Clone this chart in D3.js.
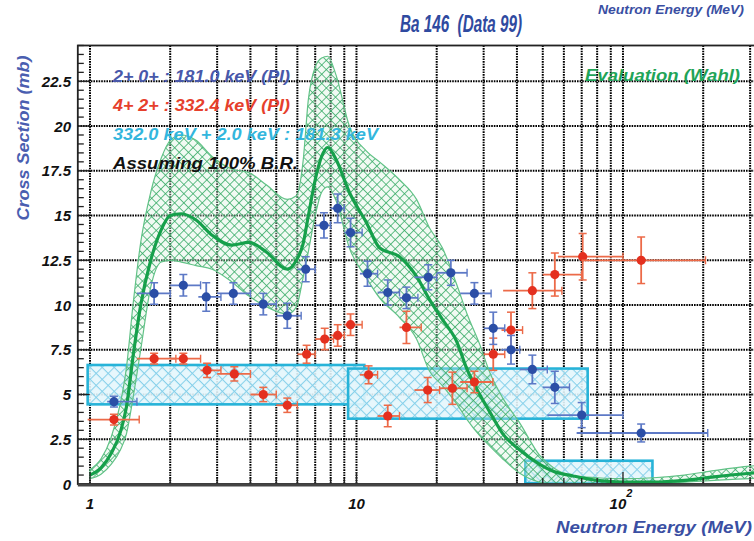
<!DOCTYPE html>
<html>
<head>
<meta charset="utf-8">
<script src="https://cdn.jsdelivr.net/npm/d3@7"></script>
<style>
  body { margin: 0; background: #fff; }
  svg { display: block; }
  text { font-family: "Liberation Sans", Arial, sans-serif; font-weight: bold; font-style: italic; }
</style>
</head>
<body>
<svg id="chart" width="754" height="541"></svg>
<script>
// ---- Evaluation (Wahl): central curve and uncertainty band ----
const evalE   = [1.0, 1.1, 1.2, 1.3, 1.37, 1.45, 1.55, 1.69, 1.85, 2.0, 2.2, 2.5, 2.87, 3.4, 3.95, 4.6, 5.5, 5.95, 6.3, 6.6, 7.0, 7.4, 7.8, 8.4, 9.4, 10.9, 12.2, 14.5, 16.8, 18.8, 21, 23.7, 26, 29, 31.7, 35.4, 41, 48.7, 55, 65, 80, 100, 130, 170, 220, 300, 330];
const evalMid = [0.5, 0.9, 1.7, 2.9, 4.3, 7.1, 10.0, 12.5, 14.2, 15.0, 15.1, 14.75, 13.9, 13.35, 13.5, 12.95, 12.0, 12.5, 13.4, 15.0, 17.0, 18.3, 18.8, 18.1, 16.3, 14.6, 13.2, 12.7, 11.6, 10.3, 9.2, 8.0, 6.4, 5.0, 4.0, 2.8, 1.9, 1.1, 0.7, 0.45, 0.2, 0.1, 0.1, 0.2, 0.4, 0.6, 0.65];
const evalHi  = [0.8, 1.4, 2.6, 4.5, 6.5, 10.0, 13.5, 16.3, 18.2, 19.2, 19.5, 19.2, 18.3, 17.6, 17.4, 16.7, 15.9, 16.1, 18.0, 21.5, 23.3, 23.8, 23.9, 22.8, 20.0, 18.6, 18.0, 17.0, 15.9, 14.3, 13.2, 11.2, 9.5, 7.8, 6.2, 4.8, 3.4, 1.6, 0.9, 0.45, 0.35, 0.3, 0.35, 0.5, 0.75, 1.0, 1.05];
const evalLo  = [0.3, 0.55, 1.1, 1.9, 2.8, 4.8, 7.5, 11.0, 12.4, 12.5, 12.4, 12.2, 12.0, 11.3, 10.5, 9.9, 9.5, 9.9, 11.5, 13.0, 15.0, 16.3, 16.6, 15.8, 13.2, 11.5, 10.4, 9.3, 8.1, 6.3, 5.5, 4.5, 3.6, 2.7, 2.1, 1.4, 0.6, 0.1, 0, 0, 0, 0, 0.02, 0.1, 0.2, 0.3, 0.32];

// ---- 2+ -> 0+ : 181.0 keV (PI)  rows: [E, sigma, E low, E high, sigma error] ----
const gamma181 = [
  [1.23, 4.6, 1.16, 1.5, 0.3],
  [1.74, 10.65, 1.5, 2.0, 0.6],
  [2.24, 11.1, 2.0, 2.6, 0.6],
  [2.73, 10.45, 2.55, 3.1, 0.8],
  [3.45, 10.65, 3.0, 4.0, 0.6],
  [4.47, 10.05, 4.0, 5.0, 0.6],
  [5.5, 9.4, 5.0, 6.2, 0.7],
  [6.45, 12.0, 6.0, 7.0, 0.7],
  [7.55, 14.45, 7.0, 8.0, 0.7],
  [8.5, 15.4, 8.0, 9.0, 0.8],
  [9.5, 14.05, 9.0, 10.5, 0.8],
  [11.0, 11.75, 10.3, 12.0, 0.7],
  [13.1, 10.7, 12.0, 14.5, 0.7],
  [15.4, 10.4, 14.5, 17.0, 0.6],
  [18.6, 11.55, 16.5, 20.0, 0.7],
  [22.6, 11.8, 20.0, 26.0, 0.7],
  [27.7, 10.65, 24.5, 32.0, 0.6],
  [32.6, 8.7, 30.0, 36.0, 0.9],
  [38.0, 7.5, 35.0, 41.0, 0.8],
  [45.7, 6.4, 41.0, 52.0, 0.8],
  [55.5, 5.4, 50.0, 63.0, 0.9],
  [70.0, 3.85, 52.0, 100.0, 0.7],
  [117, 2.85, 67.0, 208.0, 0.5]
];

// ---- 4+ -> 2+ : 332.4 keV (PI) ----
const gamma332 = [
  [1.23, 3.6, 0.98, 1.53, 0.3],
  [1.74, 7.0, 1.5, 2.1, 0.3],
  [2.24, 7.0, 2.0, 2.6, 0.3],
  [2.75, 6.35, 2.6, 3.1, 0.4],
  [3.48, 6.15, 3.0, 4.0, 0.4],
  [4.47, 5.0, 4.0, 5.0, 0.4],
  [5.5, 4.4, 5.0, 6.0, 0.4],
  [6.5, 7.25, 6.0, 7.0, 0.5],
  [7.6, 8.1, 7.0, 8.2, 0.6],
  [8.5, 8.3, 8.0, 9.0, 0.6],
  [9.5, 8.9, 9.0, 10.5, 0.6],
  [11.1, 6.1, 10.3, 12.0, 0.5],
  [13.1, 3.8, 12.0, 14.5, 0.6],
  [15.4, 8.75, 14.5, 17.5, 0.9],
  [18.5, 5.25, 16.5, 20.5, 0.7],
  [22.9, 5.35, 20.5, 26.0, 0.9],
  [27.7, 5.7, 24.5, 32.5, 0.6],
  [32.6, 7.25, 30.0, 36.0, 0.9],
  [38.0, 8.6, 35.0, 42.0, 1.0],
  [45.7, 10.8, 35.5, 59.0, 1.0],
  [55.5, 11.7, 50.0, 70.0, 1.2],
  [70.6, 12.7, 57.0, 100.0, 1.3],
  [117, 12.5, 70.0, 204.0, 1.3]
];

// ---- 332.0 keV + 2.0 keV : 181.3 keV  (energy range, cross-section range) ----
const sumELo  = [0.98, 9.3, 43];
const sumEHi  = [10.7, 73.7, 129];
const sumXsLo = [4.45, 3.65, 0.05];
const sumXsHi = [6.65, 6.45, 1.3];

// ---- axis ticks ----
const yTicks = [0, 2.5, 5, 7.5, 10, 12.5, 15, 17.5, 20, 22.5];
const xDecades = [1, 10, 100];

// ------------------------------------------------------------
const svg = d3.select("#chart");
const pLeft = 77.8, pRight = 757.6, pTop = 45.5, pBottom = 484;

const x = d3.scaleLog().domain([0.9, 320]).range([pLeft, pRight]);
const y = d3.scaleLinear().domain([0, 24.5]).range([pBottom, pTop]);

const defs = svg.append("defs");
defs.append("clipPath").attr("id", "plotClip")
  .append("rect").attr("x", pLeft).attr("y", pTop).attr("width", pRight - pLeft).attr("height", pBottom - pTop);

// cross-hatch patterns
function hatch(id, size, stroke, width, bg) {
  const p = defs.append("pattern").attr("id", id)
    .attr("patternUnits", "userSpaceOnUse")
    .attr("width", size).attr("height", size)
    .attr("patternTransform", "rotate(45)");
  p.append("rect").attr("width", size).attr("height", size).attr("fill", bg);
  p.append("line").attr("x1", 0).attr("y1", 0).attr("x2", 0).attr("y2", size)
    .attr("stroke", stroke).attr("stroke-width", width);
  p.append("line").attr("x1", 0).attr("y1", 0).attr("x2", size).attr("y2", 0)
    .attr("stroke", stroke).attr("stroke-width", width);
}
hatch("greenHatch", 6.5, "#33a963", 1.5, "rgba(215,240,222,0.35)");
hatch("cyanHatch", 8.5, "#86d0ea", 2.1, "rgba(228,246,252,0.9)");

// ---- grid ----
const grid = svg.append("g");
const minorX = [];
[1, 10, 100].forEach(dec => { for (let k = 1; k <= 9; k++) { if (dec * k <= 320) minorX.push(dec * k); } });
grid.selectAll("line.vx").data(minorX).join("line")
  .attr("x1", d => x(d)).attr("x2", d => x(d)).attr("y1", pTop).attr("y2", pBottom)
  .attr("stroke", "#000").attr("stroke-width", 2).attr("stroke-dasharray", "1.6,1");
grid.selectAll("line.hy").data(yTicks.filter(v => v > 0)).join("line")
  .attr("x1", pLeft).attr("x2", pRight).attr("y1", d => y(d)).attr("y2", d => y(d))
  .attr("stroke", "#000").attr("stroke-width", 2).attr("stroke-dasharray", "1.6,1");

// ---- summed-line boxes ----
const boxes = svg.append("g").attr("clip-path", "url(#plotClip)");
const boxData = sumELo.map((e, i) => ({ e0: e, e1: sumEHi[i], s0: sumXsLo[i], s1: sumXsHi[i] }));
boxes.selectAll("rect").data(boxData).join("rect")
  .attr("x", d => x(d.e0)).attr("width", d => x(d.e1) - x(d.e0))
  .attr("y", d => y(d.s1)).attr("height", d => y(d.s0) - y(d.s1))
  .attr("fill", "url(#cyanHatch)")
  .attr("stroke", "#27b3d8").attr("stroke-width", 2.6);

// ---- evaluation band and curve ----
const evalRows = evalE.map((e, i) => ({ e, mid: evalMid[i], lo: evalLo[i], hi: evalHi[i] }));
const ev = svg.append("g").attr("clip-path", "url(#plotClip)");
const area = d3.area().x(d => x(d.e)).y0(d => y(d.lo)).y1(d => y(d.hi)).curve(d3.curveMonotoneX);
ev.append("path").datum(evalRows).attr("d", area)
  .attr("fill", "url(#greenHatch)").attr("stroke", "#62c287").attr("stroke-width", 1.2);
ev.append("path").datum(evalRows)
  .attr("d", d3.line().x(d => x(d.e)).y(d => y(d.mid)).curve(d3.curveMonotoneX))
  .attr("fill", "none").attr("stroke", "#16a04b").attr("stroke-width", 3.2);

// ---- frame and ticks ----
const axes = svg.append("g");
const minorY = d3.range(0, 24.51, 0.5);
axes.selectAll("line.ty").data(minorY).join("line")
  .attr("x1", pLeft).attr("x2", d => pLeft + (Math.abs(d / 2.5 - Math.round(d / 2.5)) < 1e-6 ? 12 : 6))
  .attr("y1", d => y(d)).attr("y2", d => y(d))
  .attr("stroke", "#222").attr("stroke-width", 1.3);
axes.selectAll("line.tx").data(minorX).join("line")
  .attr("x1", d => x(d)).attr("x2", d => x(d))
  .attr("y1", pBottom).attr("y2", d => pBottom - (xDecades.includes(d) ? 12 : 6))
  .attr("stroke", "#222").attr("stroke-width", 1.3);
axes.append("rect").attr("x", pLeft).attr("y", pTop).attr("width", pRight - pLeft).attr("height", pBottom - pTop)
  .attr("fill", "none").attr("stroke", "#222").attr("stroke-width", 1.8);
axes.append("line").attr("x1", pLeft).attr("x2", pRight).attr("y1", pBottom + 1).attr("y2", pBottom + 1)
  .attr("stroke", "#444").attr("stroke-width", 3);

// ---- data points ----
function drawPoints(rows, markCol, barCol) {
  const g = svg.append("g").attr("clip-path", "url(#plotClip)");
  const pts = g.selectAll("g").data(rows).join("g");
  pts.append("line")
    .attr("x1", d => x(d[2])).attr("x2", d => x(d[3]))
    .attr("y1", d => y(d[1])).attr("y2", d => y(d[1]))
    .attr("stroke", barCol).attr("stroke-width", 1.8);
  pts.append("line")
    .attr("x1", d => x(d[0])).attr("x2", d => x(d[0]))
    .attr("y1", d => y(d[1] - d[4])).attr("y2", d => y(d[1] + d[4]))
    .attr("stroke", barCol).attr("stroke-width", 1.8);
  // caps on the cross-section error bars
  [-1, 1].forEach(s => {
    pts.append("line")
      .attr("x1", d => x(d[0]) - 4).attr("x2", d => x(d[0]) + 4)
      .attr("y1", d => y(d[1] + s * d[4])).attr("y2", d => y(d[1] + s * d[4]))
      .attr("stroke", barCol).attr("stroke-width", 1.5);
  });
  // tick at the upper edge of each energy bin
  pts.append("line")
    .attr("x1", d => x(d[3])).attr("x2", d => x(d[3]))
    .attr("y1", d => y(d[1]) - 4).attr("y2", d => y(d[1]) + 4)
    .attr("stroke", barCol).attr("stroke-width", 1.4);
  pts.append("circle")
    .attr("cx", d => x(d[0])).attr("cy", d => y(d[1])).attr("r", 4.6)
    .attr("fill", markCol);
}
drawPoints(gamma332, "#e4301f", "#ec6a48");
drawPoints(gamma181, "#2b4ea6", "#5d79c6");

// ---- axis labels ----
svg.append("g").selectAll("text").data(yTicks).join("text")
  .attr("x", 71).attr("y", d => y(d) + 5.5)
  .attr("text-anchor", "end").attr("font-size", 15).attr("fill", "#111")
  .text(d => d);

const xl = svg.append("g").attr("font-size", 15).attr("fill", "#111");
xl.append("text").attr("x", x(1)).attr("y", 509).attr("text-anchor", "middle").text("1");
xl.append("text").attr("x", x(10)).attr("y", 509).attr("text-anchor", "middle").text("10");
const t100 = xl.append("text").attr("x", x(100) - 2).attr("y", 509).attr("text-anchor", "middle");
t100.append("tspan").text("10");
t100.append("tspan").attr("dy", -12).attr("font-size", 11).text("2");

// fixed-width text helper
function label(xp, yp, str, size, col, len, anchor) {
  return svg.append("text").attr("x", xp).attr("y", yp)
    .attr("font-size", size).attr("fill", col)
    .attr("text-anchor", anchor || "start")
    .attr("textLength", len).attr("lengthAdjust", "spacingAndGlyphs")
    .style("white-space", "pre").text(str);
}

label(556, 533, "Neutron Energy (MeV)", 17, "#3a4fa3", 196);
label(598, 14, "Neutron Energy (MeV)", 13, "#3a4fa3", 146);
svg.append("text").attr("transform", "translate(29,138) rotate(-90)").attr("text-anchor", "middle")
  .attr("font-size", 17).attr("fill", "#4a5eb0")
  .attr("textLength", 165).attr("lengthAdjust", "spacingAndGlyphs")
  .text("Cross Section (mb)");

label(400, 32, "Ba 146  (Data 99)", 23, "#2f4aa0", 122);

// ---- legend ----
label(113, 82, "2+ 0+ : 181.0 keV (PI)", 16.5, "#4858aa", 177);
label(113, 111, "4+ 2+ : 332.4 keV (PI)", 16.5, "#e6402c", 177);
label(113, 140, "332.0 keV + 2.0 keV : 181.3 keV", 16, "#33b6dd", 265);
label(113, 169, "Assuming 100% B.R.", 17, "#111", 185);
label(585, 81, "Evaluation (Wahl)", 17, "#1fa458", 155);
</script>
</body>
</html>
